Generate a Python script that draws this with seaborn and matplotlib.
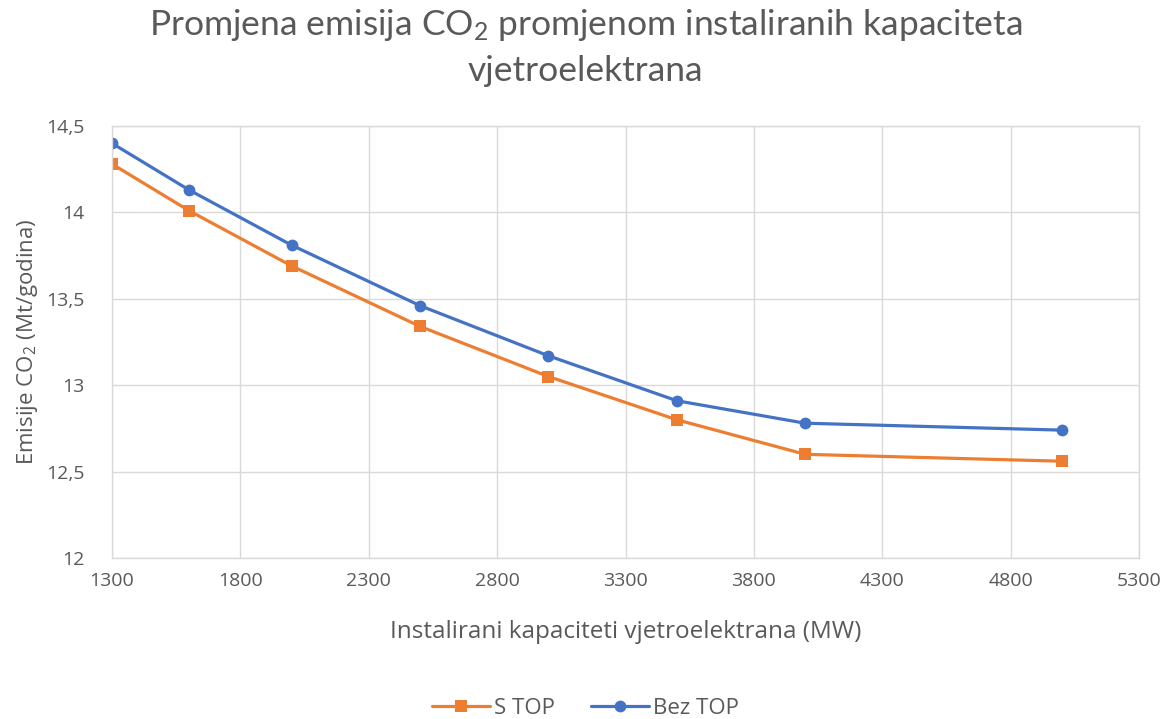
import seaborn as sns
import matplotlib.pyplot as plt
import pandas as pd

kapacitet = [1300, 1600, 2000, 2500, 3000, 3500, 4000, 5000]
s_top = [14.28, 14.01, 13.69, 13.34, 13.05, 12.80, 12.60, 12.56]
bez_top = [14.40, 14.13, 13.81, 13.46, 13.17, 12.91, 12.78, 12.74]
serije = ["S TOP", "Bez TOP"]

df = pd.concat([
    pd.DataFrame({"kapacitet": kapacitet, "emisije": s_top, "serija": serije[0]}),
    pd.DataFrame({"kapacitet": kapacitet, "emisije": bez_top, "serija": serije[1]}),
])

sns.set_theme(style="white")
plt.rcParams['font.family'] = ['Open Sans', 'DejaVu Sans']
plt.rcParams['mathtext.default'] = 'regular'
txt = '#595959'
grid = '#D9D9D9'

fig = plt.figure(figsize=(11.71, 7.19), dpi=100)
ax = fig.add_axes([112/1171, 1 - 558/719, (1139-112)/1171, (558-126)/719])

sns.lineplot(data=df, x="kapacitet", y="emisije", hue="serija", style="serija",
             palette={"S TOP": "#ED7D31", "Bez TOP": "#4472C4"},
             markers={"S TOP": "s", "Bez TOP": "o"}, dashes=False,
             markersize=8.5, markeredgewidth=0, linewidth=2.3, ax=ax)

ax.set_xlim(1300, 5300)
ax.set_ylim(12, 14.5)
ax.set_xticks(range(1300, 5301, 500))
ax.set_yticks([12, 12.5, 13, 13.5, 14, 14.5])
ax.set_yticklabels(["12", "12,5", "13", "13,5", "14", "14,5"])
ax.grid(True, color=grid, linewidth=1)
for s in ax.spines.values():
    s.set_color(grid)
    s.set_linewidth(1)
ax.tick_params(length=0, labelsize=14, labelcolor=txt)
ax.tick_params(axis='y', pad=20)
ax.tick_params(axis='x', pad=10)

ax.set_xlabel("Instalirani kapaciteti vjetroelektrana (MW)", fontsize=17.5, color=txt, labelpad=22)
ax.set_ylabel("Emisije CO$_2$ (Mt/godina)", fontsize=16, color=txt, labelpad=4)

fig.suptitle("Promjena emisija CO$_2$ promjenom instaliranih kapaciteta\nvjetroelektrana",
             fontsize=25.5, color=txt, y=0.99, linespacing=1.45,
             family=['Lato', 'Open Sans', 'DejaVu Sans'])

sns.move_legend(ax, "lower center", bbox_to_anchor=(0.5, -0.028), bbox_transform=fig.transFigure,
                ncol=2, title=None, frameon=False, fontsize=16, handlelength=2.6,
                columnspacing=1.6, handletextpad=0.2)
for t in ax.get_legend().get_texts():
    t.set_color(txt)

fig.savefig("out.png", dpi=100)
